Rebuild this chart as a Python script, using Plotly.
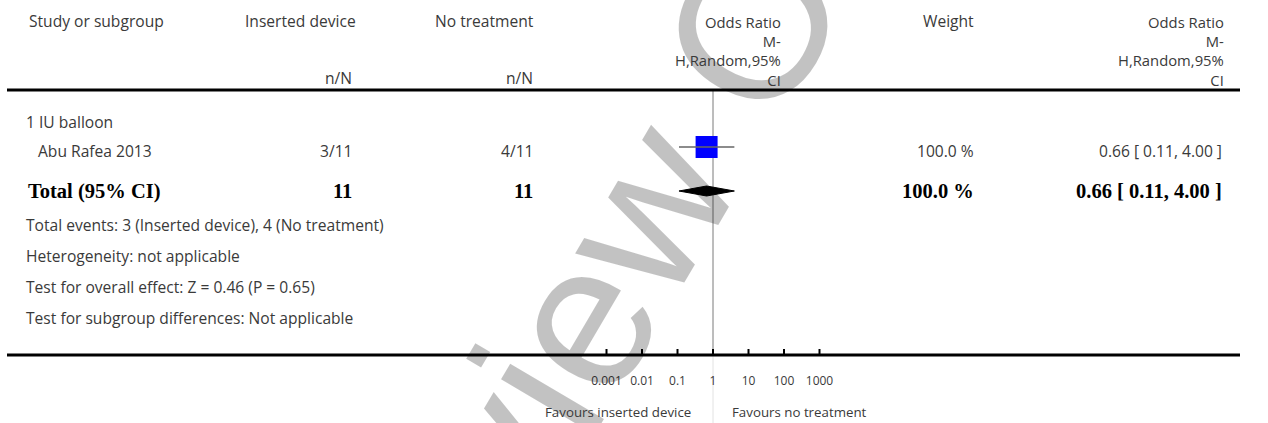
import math
import plotly.graph_objects as go

# ---------------- data ----------------
subgroup_names = ["1 IU balloon"]
study_names = ["Abu Rafea 2013"]
events_device = [3]
total_device = [11]
events_none = [4]
total_none = [11]
study_or = [0.66]
study_lo = [0.11]
study_hi = [4.00]
study_weight = [100.0]

pooled_total_device = 11
pooled_total_none = 11
pooled_or = 0.66
pooled_lo = 0.11
pooled_hi = 4.00
pooled_weight = 100.0

tick_values = [0.001, 0.01, 0.1, 1, 10, 100, 1000]
tick_labels = ["0.001", "0.01", "0.1", "1", "10", "100", "1000"]

footer_lines = [
    "Total events: 3 (Inserted device), 4 (No treatment)",
    "Heterogeneity: not applicable",
    "Test for overall effect: Z = 0.46 (P = 0.65)",
    "Test for subgroup differences: Not applicable",
]
favours_left = "Favours inserted device"
favours_right = "Favours no treatment"
or_header_lines = ["Odds Ratio", "M-", "H,Random,95%", "CI"]

# ---------------- layout constants ----------------
W, H = 1268, 423
PX_PER_DECADE = 35.5
NULL_PX = 713
log_lo = -NULL_PX / PX_PER_DECADE
log_hi = log_lo + W / PX_PER_DECADE

REG = "'Open Sans', Lato, sans-serif"
BOLD = "'Liberation Serif', 'DejaVu Serif', serif"
TXT = "#3a3a3a"
FS = 15.6
HFS = 14.8
BFS = 20.5

Y_HDR = [21, 42, 60, 78]
Y_HLINE = 90
Y_SUB = 122
Y_STUDY = 151
Y_TOTAL = 191
Y_FOOT = [225, 256, 287, 318]
Y_AXIS = 355
Y_TICKLAB = 382
Y_FAV = 412

X_TEXT = 24
X_STUDY = 36
X_DEV_R = 354
X_NONE_R = 535
X_W_R = 976
X_OR_R = 1224


def px(x):
    return x / W


def py(y):
    return 1 - y / H


ann = []

# watermark (drawn first so all text sits over it)
ann.append(dict(text="For Review Only", x=px(541), y=py(386), xref="paper", yref="paper",
                showarrow=False, textangle=-59.5, xanchor="center", yanchor="middle",
                font=dict(family="'Liberation Sans', Arial, sans-serif", size=206,
                          color="rgba(0,0,0,0.24)")))


def t(text, x, y, anchor="left", font=REG, size=FS, color=TXT, yanchor="middle"):
    ann.append(dict(text=text, x=px(x), y=py(y), xref="paper", yref="paper",
                    showarrow=False, xanchor=anchor, yanchor=yanchor, align=anchor,
                    font=dict(family=font, size=size, color=color)))


# header
t("Study or subgroup", 27, Y_HDR[0])
t("Inserted device", 243, Y_HDR[0])
t("n/N", X_DEV_R, Y_HDR[3], "right")
t("No treatment", 433, Y_HDR[0])
t("n/N", X_NONE_R, Y_HDR[3], "right")
t("<br>".join(or_header_lines), 783, Y_HDR[0] - 11, "right", size=HFS, yanchor="top")
t("Weight", X_W_R, Y_HDR[0], "right")
t("<br>".join(or_header_lines), 1226, Y_HDR[0] - 11, "right", size=HFS, yanchor="top")

# subgroup / study rows
t(subgroup_names[0], X_TEXT, Y_SUB)
for i, name in enumerate(study_names):
    t(name, X_STUDY, Y_STUDY)
    t(f"{events_device[i]}/{total_device[i]}", X_DEV_R, Y_STUDY, "right")
    t(f"{events_none[i]}/{total_none[i]}", X_NONE_R, Y_STUDY, "right")
    t(f"{study_weight[i]:.1f} %", X_W_R, Y_STUDY, "right")
    t(f"{study_or[i]:.2f} [ {study_lo[i]:.2f}, {study_hi[i]:.2f} ]", X_OR_R, Y_STUDY, "right")

# total row
t("<b>Total (95% CI)</b>", X_TEXT + 2, Y_TOTAL, font=BOLD, size=BFS, color="#000")
t(f"<b>{pooled_total_device}</b>", X_DEV_R, Y_TOTAL, "right", BOLD, BFS, "#000")
t(f"<b>{pooled_total_none}</b>", X_NONE_R, Y_TOTAL, "right", BOLD, BFS, "#000")
t(f"<b>{pooled_weight:.1f} %</b>", X_W_R, Y_TOTAL, "right", BOLD, BFS, "#000")
t(f"<b>{pooled_or:.2f} [ {pooled_lo:.2f}, {pooled_hi:.2f} ]</b>", X_OR_R, Y_TOTAL, "right", BOLD, BFS, "#000")

for line, y in zip(footer_lines, Y_FOOT):
    t(line, X_TEXT, y)

t(favours_left, NULL_PX - 20, Y_FAV, "right", size=13.3)
t(favours_right, NULL_PX + 17, Y_FAV, "left", size=13.3)

fig = go.Figure()

# null line
fig.add_trace(go.Scatter(x=[1, 1], y=[Y_HLINE, Y_AXIS], mode="lines",
                         line=dict(color="#7a7a7a", width=1), hoverinfo="skip"))
fig.add_trace(go.Scatter(x=[1, 1], y=[Y_AXIS, H], mode="lines",
                         line=dict(color="#e2e2e2", width=1), hoverinfo="skip"))

# axis ticks
tx, ty = [], []
for v in tick_values:
    tx += [v, v, None]
    ty += [Y_AXIS - 6, Y_AXIS, None]
fig.add_trace(go.Scatter(x=tx, y=ty, mode="lines", line=dict(color="black", width=2),
                         hoverinfo="skip"))
fig.add_trace(go.Scatter(x=tick_values, y=[Y_TICKLAB] * len(tick_values), mode="text",
                         text=tick_labels, textposition="middle center",
                         textfont=dict(family=REG, size=12, color=TXT), hoverinfo="skip"))

# study CI and square
for i in range(len(study_names)):
    fig.add_trace(go.Scatter(x=[study_or[i]], y=[Y_STUDY - 4], mode="markers",
                             marker=dict(symbol="square", size=22, color="#0000ff",
                                         line=dict(width=0)), hoverinfo="skip"))
    fig.add_trace(go.Scatter(x=[study_lo[i], study_hi[i]], y=[Y_STUDY - 4] * 2, mode="lines",
                             line=dict(color="#666666", width=1.5), hoverinfo="skip"))

# pooled diamond
fig.add_trace(go.Scatter(x=[pooled_lo, pooled_or, pooled_hi, pooled_or, pooled_lo],
                         y=[Y_TOTAL, Y_TOTAL - 5, Y_TOTAL, Y_TOTAL + 5, Y_TOTAL],
                         mode="lines", fill="toself", fillcolor="black",
                         line=dict(color="black", width=1), hoverinfo="skip"))

shapes = [
    dict(type="line", xref="paper", yref="paper", x0=px(7), x1=px(1240), y0=py(Y_HLINE), y1=py(Y_HLINE),
         line=dict(color="black", width=3)),
    dict(type="line", xref="paper", yref="paper", x0=px(7), x1=px(1240), y0=py(Y_AXIS), y1=py(Y_AXIS),
         line=dict(color="black", width=3)),
]

fig.update_layout(
    width=W, height=H, margin=dict(l=0, r=0, t=0, b=0),
    paper_bgcolor="white", plot_bgcolor="white", showlegend=False,
    xaxis=dict(type="log", range=[log_lo, log_hi], visible=False, fixedrange=True),
    yaxis=dict(range=[H, 0], visible=False, fixedrange=True),
    annotations=ann, shapes=shapes,
)

fig.write_html("out.html")
